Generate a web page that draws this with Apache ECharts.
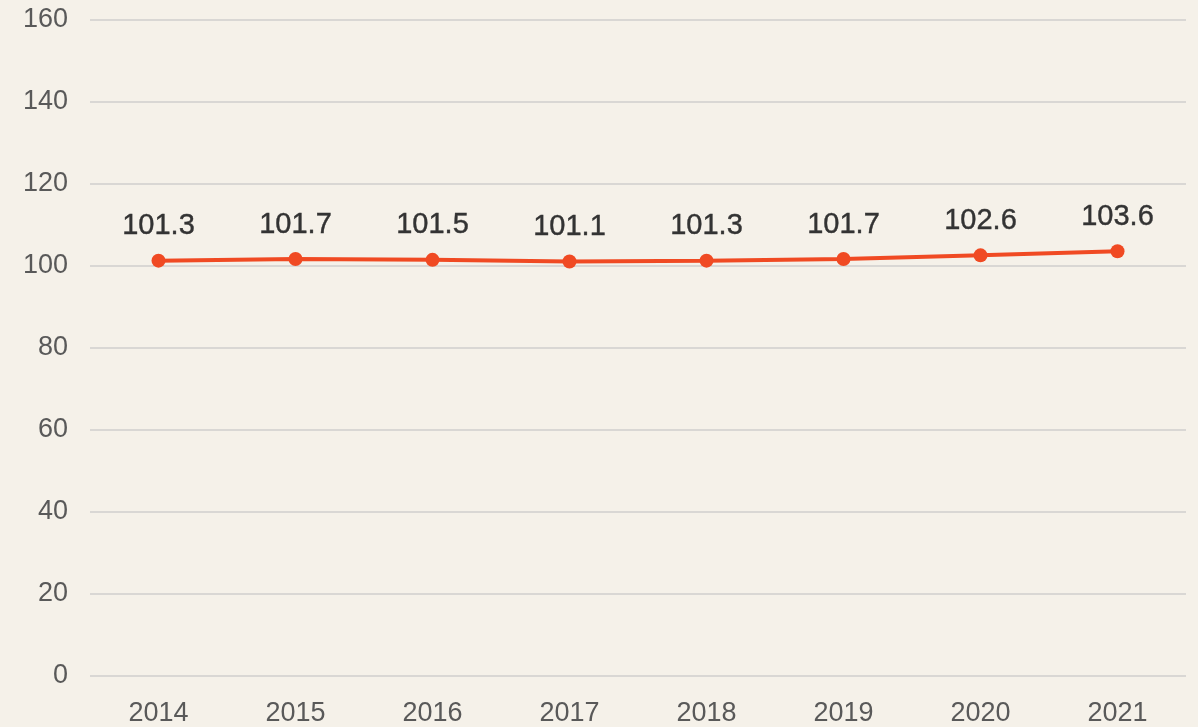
<!DOCTYPE html>
<html><head><meta charset="utf-8">
<script src="https://cdn.jsdelivr.net/npm/echarts@6/dist/echarts.min.js"></script>
<style>html,body{margin:0;padding:0;background:#f5f1e9}#c{width:1198px;height:727px}</style>
</head><body><div id="c"></div>
<script>
const years = ['2014','2015','2016','2017','2018','2019','2020','2021'];
const values = [101.3, 101.7, 101.5, 101.1, 101.3, 101.7, 102.6, 103.6];
const yMin = 0, yMax = 160, yStep = 20;

const chart = echarts.init(document.getElementById('c'), null, {renderer:'canvas'});
chart.setOption({
  backgroundColor: '#f5f1e9',
  animation: false,
  grid: {left: 90, right: 12, top: 20, bottom: 51, containLabel: false},
  xAxis: {
    type: 'category', data: years, boundaryGap: true,
    axisLine: {show: false}, axisTick: {show: false},
    axisLabel: {color: '#595959', fontSize: 27, fontFamily: 'Liberation Sans, Arial, sans-serif', margin: 24}
  },
  yAxis: {
    type: 'value', min: yMin, max: yMax, interval: yStep,
    axisLine: {show: false}, axisTick: {show: false},
    axisLabel: {color: '#595959', fontSize: 27, fontFamily: 'Liberation Sans, Arial, sans-serif', margin: 22},
    splitLine: {lineStyle: {color: '#d9d7d4', width: 2}}
  },
  series: [{
    type: 'line', data: values,
    symbol: 'circle', symbolSize: 14,
    lineStyle: {color: '#f04a23', width: 4},
    itemStyle: {color: '#f04a23'},
    label: {show: true, position: 'top', distance: 13, color: '#333333', fontSize: 29,
      fontFamily: 'Liberation Sans, Arial, sans-serif', textBorderColor: '#333333', textBorderWidth: 0.4}
  }]
});
</script></body></html>
